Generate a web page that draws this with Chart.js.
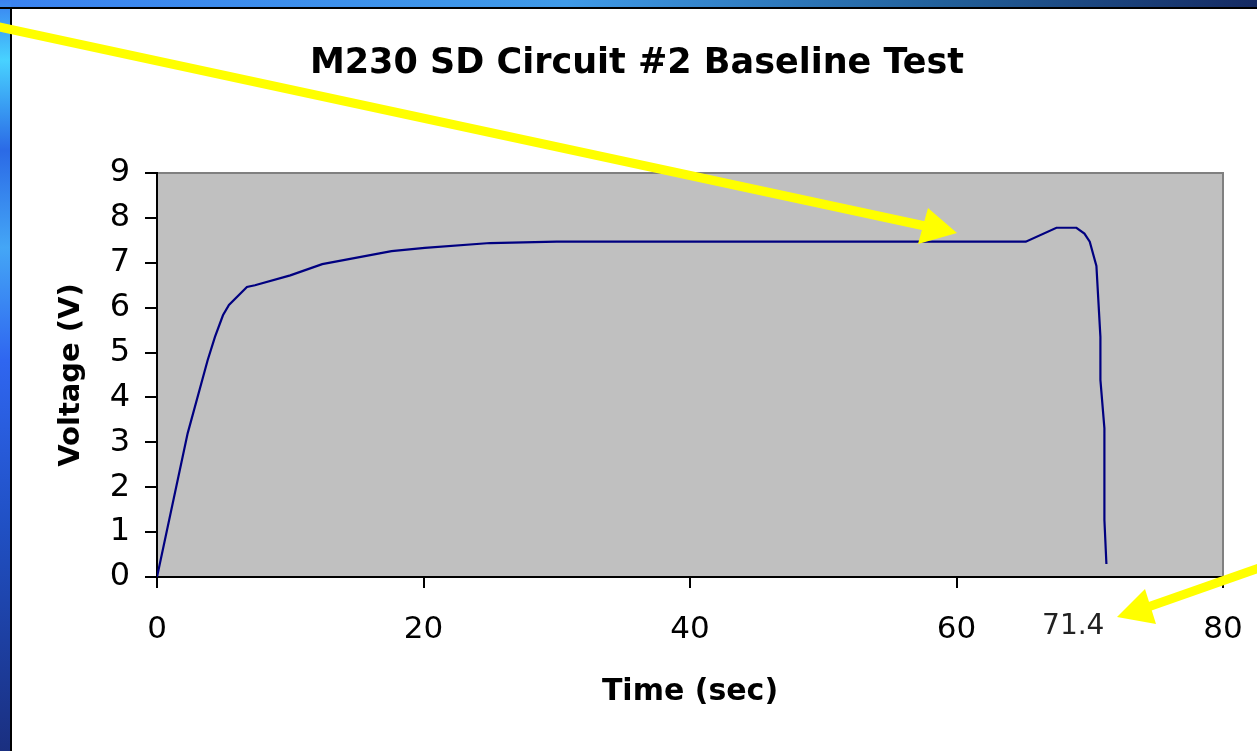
<!DOCTYPE html>
<html>
<head>
<meta charset="utf-8">
<script src="https://cdn.jsdelivr.net/npm/chart.js@4.4.1/dist/chart.umd.min.js"></script>
<style>
  html, body { margin: 0; padding: 0; background: #fff; overflow: hidden; }
  #wrap { width: 1257px; height: 751px; }
</style>
</head>
<body>
<div id="wrap"><canvas id="voltChart" width="1257" height="751"></canvas></div>
<script>
// M230 SD circuit #2 baseline test - voltage vs time
const timeSec = [0, 2.3, 3.8, 4.35, 4.95, 5.4, 6.75, 7.35, 10, 12.4, 17.6, 20.1, 25, 30,
  65.2, 67.5, 69.0, 69.6, 70.0, 70.5, 70.8, 70.8, 71.1, 71.1, 71.25];
const voltage = [0, 3.2, 4.83, 5.35, 5.83, 6.06, 6.46, 6.5, 6.72, 6.97, 7.26, 7.33, 7.44, 7.47,
  7.47, 7.78, 7.78, 7.65, 7.47, 6.93, 5.35, 4.39, 3.31, 1.27, 0.29];
const xTicks = [0, 20, 40, 60, 80];
const yTicks = [0, 1, 2, 3, 4, 5, 6, 7, 8, 9];
const endTime = 71.4;

const points = timeSec.map((t, i) => ({ x: t, y: voltage[i] }));

// slide frame + grey plot background
const backdrop = {
  id: 'backdrop',
  beforeDraw(chart) {
    const c = chart.ctx;
    const a = chart.chartArea;
    c.save();
    c.fillStyle = '#ffffff';
    c.fillRect(0, 0, chart.width, chart.height);

    let g = c.createLinearGradient(0, 0, chart.width, 0);
    g.addColorStop(0, '#3a82f0');
    g.addColorStop(0.45, '#3f9ae8');
    g.addColorStop(0.75, '#22609a');
    g.addColorStop(1, '#152a62');
    c.fillStyle = g;
    c.fillRect(0, 0, chart.width, 8);

    g = c.createLinearGradient(0, 0, 0, chart.height);
    g.addColorStop(0, '#3a82f0');
    g.addColorStop(0.08, '#48d2ff');
    g.addColorStop(0.2, '#2b6ae6');
    g.addColorStop(0.33, '#44a6f6');
    g.addColorStop(0.48, '#2f66f0');
    g.addColorStop(0.7, '#2050c4');
    g.addColorStop(1, '#1a2f80');
    c.fillStyle = g;
    c.fillRect(0, 0, 11, chart.height);

    c.fillStyle = '#000';
    c.fillRect(0, 7, chart.width, 2);
    c.fillRect(10, 7, 2, chart.height);

    c.fillStyle = '#c0c0c0';
    c.fillRect(a.left, a.top, a.right - a.left, a.bottom - a.top);
    c.strokeStyle = '#808080';
    c.lineWidth = 2;
    c.beginPath();
    c.moveTo(a.left, a.top);
    c.lineTo(a.right, a.top);
    c.lineTo(a.right, a.bottom);
    c.stroke();
    c.restore();
  },
  afterDraw(chart) {
    const c = chart.ctx;
    const xs = chart.scales.x;
    const ys = chart.scales.y;
    c.save();
    // end time note
    c.fillStyle = '#222';
    c.font = '28px "DejaVu Sans"';
    c.textAlign = 'right';
    c.textBaseline = 'middle';
    c.fillText(String(endTime), xs.getPixelForValue(endTime) - 4, ys.bottom + 50);

    // yellow call-out arrows
    c.strokeStyle = '#ffff00';
    c.fillStyle = '#ffff00';
    c.lineWidth = 9;
    c.beginPath();
    c.moveTo(-10, 25);
    c.lineTo(925, 226);
    c.stroke();
    c.beginPath();
    c.moveTo(928, 208);
    c.lineTo(957, 233);
    c.lineTo(918, 244);
    c.closePath();
    c.fill();

    c.beginPath();
    c.moveTo(1265, 566);
    c.lineTo(1148, 607);
    c.stroke();
    c.beginPath();
    c.moveTo(1145, 589);
    c.lineTo(1117, 617);
    c.lineTo(1156, 624);
    c.closePath();
    c.fill();
    c.restore();
  }
};

new Chart(document.getElementById('voltChart'), {
  type: 'scatter',
  data: {
    datasets: [{
      label: 'Voltage',
      data: points,
      showLine: true,
      borderColor: '#000080',
      borderWidth: 2.2,
      pointRadius: 0,
      tension: 0
    }]
  },
  options: {
    responsive: false,
    animation: false,
    layout: { padding: { left: 51, right: 34, top: 0, bottom: 0 } },
    plugins: {
      legend: { display: false },
      tooltip: { enabled: false },
      title: {
        display: true,
        text: 'M230 SD Circuit #2 Baseline Test',
        color: '#000',
        font: { family: 'DejaVu Sans', size: 35, weight: 'bold' },
        padding: { top: 43, bottom: 88 }
      }
    },
    scales: {
      x: {
        type: 'linear',
        min: 0,
        max: 80,
        afterBuildTicks: s => { s.ticks = xTicks.map(v => ({ value: v })); },
        afterFit: s => { s.height = 174; s.paddingLeft = 0; s.paddingRight = 0; },
        grid: { drawOnChartArea: false, drawTicks: true, tickLength: 11, color: '#000', lineWidth: 2 },
        border: { display: true, color: '#000', width: 2 },
        ticks: { color: '#000', padding: 23, maxRotation: 0, font: { family: 'DejaVu Sans', size: 31 } },
        title: {
          display: true,
          text: 'Time (sec)',
          color: '#000',
          font: { family: 'DejaVu Sans', size: 30, weight: 'bold' },
          padding: { top: 0, bottom: 41 }
        }
      },
      y: {
        type: 'linear',
        min: 0,
        max: 9,
        afterBuildTicks: s => { s.ticks = yTicks.map(v => ({ value: v })); },
        afterFit: s => { s.width = 106; },
        grid: { drawOnChartArea: false, drawTicks: true, tickLength: 12, color: '#000', lineWidth: 2 },
        border: { display: true, color: '#000', width: 2 },
        ticks: { color: '#000', padding: 15, font: { family: 'DejaVu Sans', size: 32 } },
        title: {
          display: true,
          text: 'Voltage (V)',
          color: '#000',
          font: { family: 'DejaVu Sans', size: 29, weight: 'bold' },
          padding: { top: 3, bottom: 0 }
        }
      }
    }
  },
  plugins: [backdrop]
});
</script>
</body>
</html>
